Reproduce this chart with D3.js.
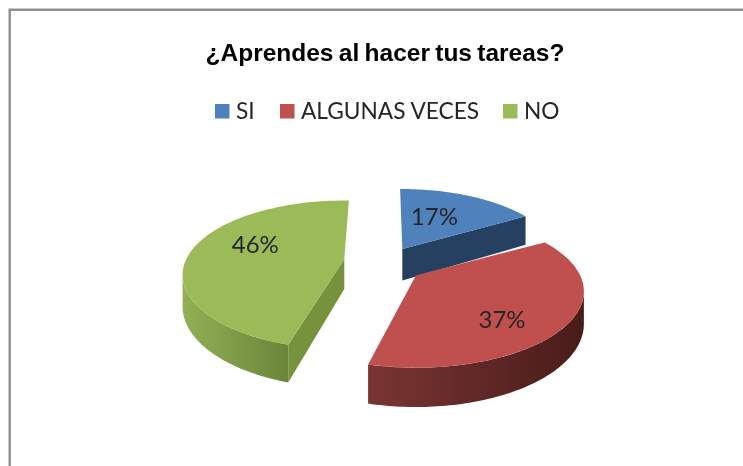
<!DOCTYPE html>
<html><head><meta charset="utf-8">
<script src="https://cdn.jsdelivr.net/npm/d3@7"></script>
<style>html,body{margin:0;padding:0;background:#fff;overflow:hidden}svg{display:block;filter:blur(0.35px)}</style>
</head><body><script>
const titleText = "¿Aprendes al hacer tus tareas?";
const categories = ["SI", "ALGUNAS VECES", "NO"];
const values = [17, 37, 46];
const colors = ["#4f81bd", "#c0504d", "#9bbb59"];
const innerWallColors = ["#254061", "#632523", "#76923c"];
const outerWallFrom = ["#2c4a70", "#7a3533", "#92b055"];
const outerWallTo = ["#1f3550", "#481c19", "#6b8539"];

// layout constants
const W = 743, H = 466;
const cx = 383, cy = 264.3, explodeX = 38, explodeY = 17.7;
const radiusX = [157, 164, 158], radiusY = [72.8, 72.8, 71], P = 0.213, depths = [31.5, 31, 30];
const originNudge = [[0, 0], [3, 0], [-1, -3]];
const angleNudgeDeg = [-1, -1, 2];
const labelOffset = [[32, -32], [86, 44], [-89, -14]];

const svg = d3.select("body").append("svg").attr("width", W).attr("height", H);
const defs = svg.append("defs");

// frame
svg.append("path").attr("d", `M9.7,${H}V9.7H${W}`).attr("fill", "none").attr("stroke", "#8f8f8f").attr("stroke-width", 2.4);

svg.append("text").attr("x", 385).attr("y", 61).attr("text-anchor", "middle")
  .attr("font-family", "Liberation Sans").attr("font-weight", "bold").attr("font-size", 24.5)
  .attr("word-spacing", -1.5).attr("fill", "#000").text(titleText);

// legend
const legendX = d3.scaleOrdinal().domain(categories).range([215, 280, 503]);
const leg = svg.selectAll("g.leg").data(categories).join("g").attr("class", "leg")
  .attr("transform", d => `translate(${legendX(d)},0)`);
leg.append("rect").attr("y", 104).attr("width", 14.5).attr("height", 14.5).attr("fill", (d, i) => colors[i]);
leg.append("text").attr("x", 21).attr("y", 119).attr("font-family", "Lato").attr("font-size", 22.7)
  .attr("fill", "#262626").text(d => d);

// pie
const arcs = d3.pie().sort(null).startAngle(0).endAngle(2 * Math.PI)(values);
const w = a => 1 + P * Math.cos(a);
const line = d3.line();
const silL = Math.acos(-P), silR = 2 * Math.PI - silL;

arcs.forEach((s, i) => { s.mid = (s.startAngle + s.endAngle) / 2; });
const order = [0, 2, 1];
order.forEach(i => {
  const s = arcs[i];
  const depth = depths[i];
  const proj = a => [radiusX[i] * Math.sin(a) / w(a), -radiusY[i] * Math.cos(a) / w(a)];
  const shift = angleNudgeDeg[i] * Math.PI / 180;
  const start = s.startAngle + shift, end = s.endAngle + shift;
  const ox = cx + explodeX * Math.sin(s.mid) + originNudge[i][0],
        oy = cy - explodeY * Math.cos(s.mid) + originNudge[i][1];
  const g = svg.append("g").attr("transform", `translate(${ox},${oy})`);
  const samples = (a0, a1) => d3.range(0, 81).map(t => a0 + (a1 - a0) * t / 80);
  const gradId = "wall" + i;
  const grad = defs.append("linearGradient").attr("id", gradId);
  grad.append("stop").attr("offset", 0).attr("stop-color", outerWallFrom[i]);
  grad.append("stop").attr("offset", 1).attr("stop-color", outerWallTo[i]);

  // outer curved wall
  const a0 = Math.max(start, silL), a1 = Math.min(end, silR);
  if (a1 > a0) {
    const top = samples(a0, a1).map(proj);
    const bot = samples(a1, a0).map(a => { const p = proj(a); return [p[0], p[1] + depth / w(a)]; });
    g.append("path").attr("d", line(top.concat(bot)) + "Z").attr("fill", `url(#${gradId})`);
  }
  // inner radial walls visible from the viewer
  [start, end].forEach((a, k) => {
    const visible = (i === 0 && k === 1) || (i === 2 && k === 0);
    if (!visible) return;
    const p = proj(a);
    const q = [[0, 0], p, [p[0], p[1] + depth / w(a)], [0, depth]];
    g.append("path").attr("d", line(q) + "Z").attr("fill", innerWallColors[i]);
  });
  // top face
  const face = [[0, 0]].concat(samples(start, end).map(proj));
  g.append("path").attr("d", line(face) + "Z").attr("fill", colors[i]);
  // value label
  g.append("text").attr("x", labelOffset[i][0]).attr("y", labelOffset[i][1]).attr("dy", "0.35em")
    .attr("text-anchor", "middle").attr("font-family", "Lato").attr("font-size", 24)
    .attr("fill", "#262626").text(values[i] + "%");
});
</script></body></html>
